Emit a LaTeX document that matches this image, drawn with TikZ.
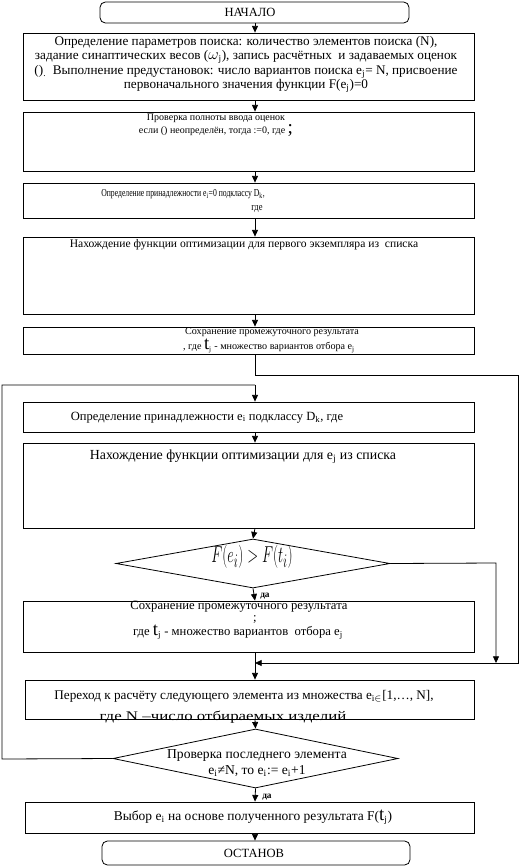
\documentclass[tikz,border=0pt]{standalone}
\usepackage{fontspec}
\usepackage{graphicx}
\setmainfont{Liberation Serif}
\usetikzlibrary{arrows.meta,shapes.geometric}
\tikzset{
  box/.style={draw, line width=0.6pt, rectangle, inner sep=0pt},
  term/.style={draw, line width=0.6pt, rectangle, rounded corners=4pt, inner sep=0pt},
  dia/.style={draw, line width=0.6pt, diamond, inner sep=0pt},
  txt/.style={inner sep=0pt, align=center, font=\fontsize{9.4pt}{10.9pt}\selectfont},
  yes/.style={inner sep=0pt, anchor=west, font=\fontsize{7pt}{8pt}\selectfont\bfseries},
  arr/.style={line width=0.6pt, -{Triangle[length=5pt,width=4.5pt]}},
  ln/.style={line width=0.6pt}
}
\newcommand{\sbs}[1]{\textsubscript{#1}}
\newcommand{\fsz}[1]{\fontsize{#1}{10.9pt}\selectfont}
\newcommand{\bigt}{{\fontsize{14pt}{10pt}\selectfont t}}
\begin{document}
\begin{tikzpicture}[x=0.75pt,y=-0.75pt]
\useasboundingbox (0,0) rectangle (520,868);
\coordinate (ax) at (255,0);
% nodes
\node[term, minimum width=231.75pt, minimum height=15.75pt] (start) at (254.5,12.5) {};
\node[txt] (tstart) at (250,12.5) {НАЧАЛО};

\node[box, minimum width=338.25pt, minimum height=50.25pt] (b1) at (248.5,66.5) {};
\node[txt, font=\fsz{9.9pt}] (t1) at (246,64.5) {Определение параметров поиска: количество элементов поиска (N),\\
задание синаптических весов ({\large$\omega$}\sbs{j}), запись расчётных \ и задаваемых оценок\\
()\sbs{.} \ Выполнение предустановок: число вариантов поиска e\sbs{j}= N, присвоение\\
первоначального значения функции F(e\sbs{j})=0};

\node[box, minimum width=338.25pt, minimum height=44.25pt] (b2) at (248.5,141.5) {};
\node[txt, font=\fsz{7.5pt}] (t2a) at (216,118) {Проверка полноты ввода оценок};
\node[txt, font=\fsz{7.5pt}] (t2b) at (216,130.5) {если () неопределён, тогда :=0, где {\Large ;}};

\node[box, minimum width=338.25pt, minimum height=26.25pt] (b3) at (248.5,200.5) {};
\node[txt, font=\fsz{8pt}] (t3a) at (183,194.5) {\scalebox{0.72}[1]{Определение принадлежности e\sbs{i}=0 подклассу D\sbs{k},}};
\node[txt, font=\fsz{8pt}] (t3b) at (257,209.5) {\scalebox{0.8}[1]{где}};

\node[box, minimum width=338.25pt, minimum height=57.75pt] (b4) at (248.5,275.5) {};
\node[txt, font=\fsz{8.7pt}] (t4) at (244,244.5) {Нахождение функции оптимизации для первого экземпляра из \ списка};

\node[box, minimum width=338.25pt, minimum height=20.25pt] (b5) at (248.5,340.5) {};
\node[txt, font=\fsz{7.6pt}] (t5a) at (272,332.5) {Сохранение промежуточного результата};
\node[txt, font=\fsz{7.6pt}] (t5b) at (269,346) {, где \bigt\sbs{j} - множество вариантов отбора e\sbs{j}};

\node[box, minimum width=338.25pt, minimum height=22.5pt] (b6) at (248.5,417) {};
\node[txt] (t6) at (207,417.5) {Определение принадлежности e\sbs{i} подклассу D\sbs{k}, где};

\node[box, minimum width=338.25pt, minimum height=63.75pt] (b7) at (248.5,485.5) {};
\node[txt, font=\fsz{10.4pt}] (t7) at (243,456.5) {Нахождение функции оптимизации для e\sbs{j} из списка};

\node[dia, minimum width=205.5pt, minimum height=36.75pt] (d1) at (253,563.5) {};
\node[inner sep=0pt] (td1) at (252,557) {\scalebox{0.62}[1]{\fontsize{19pt}{20pt}\selectfont$F\bigl(e_i\bigr)>F\bigl(t_i\bigr)$}};
\node[yes] (y1) at (260,596.5) {да};

\node[box, minimum width=338.25pt, minimum height=38.25pt] (b8) at (248.5,626.5) {};
\node[txt, font=\fsz{9.5pt}] (t8a) at (239,607) {Сохранение промежуточного результата};
\node[txt, font=\fsz{9.5pt}] (t8b) at (255,619.5) {;};
\node[txt, font=\fsz{9.5pt}] (t8c) at (238,632.5) {где \bigt\sbs{j} - множество вариантов \ отбора e\sbs{j}};

\node[box, minimum width=336.75pt, minimum height=29.25pt] (b9) at (249.5,699.5) {};
\node[txt, font=\fsz{9.9pt}] (t9a) at (244,696.5) {Переход к расчёту следующего элемента из множества e\sbs{i$\in$}[1,\ldots, N],};
\node[txt, font=\fsz{9.9pt}] (t9b) at (223,717.5) {\scalebox{1.28}[1]{где N –число отбираемых изделий}};

\node[dia, minimum width=213.75pt, minimum height=44.25pt] (d2) at (255.5,758.5) {};
\node[txt, font=\fsz{10.2pt}] (td2a) at (257,755.5) {Проверка последнего элемента};
\node[txt, font=\fsz{10.2pt}] (td2b) at (257,771) {e\sbs{i}≠N, то e\sbs{i}:= e\sbs{i}+1};
\node[yes] (y2) at (262,797) {да};

\node[box, minimum width=336.75pt, minimum height=23.25pt] (b10) at (249.5,817.5) {};
\node[txt, font=\fsz{10.1pt}] (t10) at (253,817) {Выбор e\sbs{i} на основе полученного результата F(\bigt\sbs{j})};

\node[term, minimum width=231pt, minimum height=18pt] (stop) at (256,853) {};
\node[txt] (tstop) at (254,853) {ОСТАНОВ};

% helper coordinates
\coordinate (rt1) at (518,375);
\coordinate (rt2) at (518,663);
\coordinate (mg) at (255,663);
\coordinate (rt3) at (496,563);
\coordinate (lf1) at (2,759);
\coordinate (lf2) at (2,385);

% connectors
\draw[arr] (start.south -| ax) -- (b1.north -| ax);
\draw[arr] (b1.south -| ax) -- (b2.north -| ax);
\draw[arr] (b2.south -| ax) -- (b3.north -| ax);
\draw[arr] (b3.south -| ax) -- (b4.north -| ax);
\draw[arr] (b4.south -| ax) -- (b5.north -| ax);
\draw[arr] (b5.south -| ax) |- (rt1) -- (rt2) -- (mg);
\draw[arr] (lf2 -| ax) -- (b6.north -| ax);
\draw[ln] (d2.west) -- (lf1) -- (lf2) -- (lf2 -| ax);
\draw[arr] (b6.south -| ax) -- (b7.north -| ax);
\draw[arr] (b7.south -| ax) -- (d1.north);
\draw[arr] (d1.south) -- (b8.north -| ax);
\draw[arr] (d1.east) -- (rt3) -- (rt3 |- mg);
\draw[arr] (b8.south -| ax) -- (b9.north -| ax);
\draw[arr] (b9.south -| ax) -- (d2.north);
\draw[arr] (d2.south) -- (b10.north -| ax);
\draw[arr] (b10.south -| ax) -- (stop.north -| ax);
\end{tikzpicture}
\end{document}
